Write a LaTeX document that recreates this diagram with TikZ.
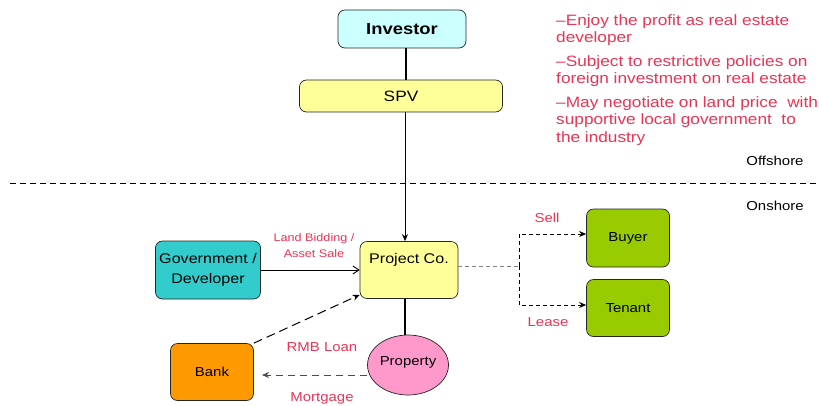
\documentclass[tikz,border=0pt]{standalone}
\usepackage{fontspec}
\setmainfont[FakeStretch=1.15]{Liberation Sans}
\usetikzlibrary{arrows.meta,shapes.geometric}
\definecolor{redtxt}{RGB}{234,52,84}
\definecolor{invfill}{RGB}{204,255,255}
\definecolor{yelfill}{RGB}{255,255,153}
\definecolor{govfill}{RGB}{51,204,204}
\definecolor{grnfill}{RGB}{153,204,0}
\definecolor{bankfill}{RGB}{255,153,0}
\definecolor{propfill}{RGB}{255,153,204}
\begin{document}
\begin{tikzpicture}[x=1pt,y=-1pt,
  box/.style={draw=black!85, rounded corners=7pt, line width=0.7pt, inner sep=0pt, align=center, font=\fontsize{14}{20}\selectfont},
  redlbl/.style={text=redtxt, inner sep=0pt, align=center},
  plain/.style={font=\fontsize{13}{16}\selectfont, inner sep=0pt},
  dsh/.style={dash pattern=on 6pt off 4pt, line width=0.8pt},
  tip/.style={-{Stealth[length=7pt,width=6pt]}}
]
\useasboundingbox (0,0) rectangle (819,405);
% boxes
\node[box, fill=invfill, minimum width=128pt, minimum height=38pt, font=\bfseries\fontsize{16}{19}\selectfont] (inv) at (402,29) {Investor};
\node[box, fill=yelfill, minimum width=203pt, minimum height=32pt, font=\fontsize{15}{18}\selectfont] (spv) at (401,96) {SPV};
\node[box, fill=yelfill, minimum width=98pt, minimum height=57pt] (proj) at (409,270) {};
\node[plain, font=\fontsize{14}{17}\selectfont] (projlbl) at (409,260) {Project Co.};
\node[box, fill=govfill, minimum width=105pt, minimum height=58pt] (gov) at (208,270) {Government /\\Developer};
\node[box, fill=grnfill, minimum width=83pt, minimum height=58pt, font=\fontsize{13}{16}\selectfont] (buy) at (628,238) {Buyer};
\node[box, fill=grnfill, minimum width=83pt, minimum height=57pt, font=\fontsize{13}{16}\selectfont] (ten) at (628,308) {Tenant};
\node[box, fill=bankfill, minimum width=83pt, minimum height=57pt, font=\fontsize{13}{16}\selectfont] (bank) at (212,372) {Bank};
\node[ellipse, draw=black!85, line width=0.7pt, fill=propfill, minimum width=81pt, minimum height=60pt, inner sep=0pt, font=\fontsize{13}{16}\selectfont] (prop) at (408,365) {};
\node[plain] (proplbl) at (408,362) {Property};
% red notes
\node[anchor=north west, inner sep=0pt, align=left, text=redtxt, font=\fontsize{15}{17.5}\selectfont] (notes) at (556,14)
  {–Enjoy the profit as real estate\\developer\\[6pt]–Subject to restrictive policies on\\foreign investment on real estate\\[6pt]–May negotiate on land price \ with\\supportive local government \ to\\the industry};
% offshore/onshore
\coordinate (dl) at (10,183);
\coordinate (dr) at (819,183);
\draw[dsh, line width=1pt] (dl) -- (dr);
\node[plain] (off) at (775,161) {Offshore};
\node[plain] (on) at (775,206) {Onshore};
% connectors
\draw[line width=1.3pt] (inv.south -| 406,0) -- (spv.north -| 406,0);
\draw[line width=1pt, tip] (spv.south -| 405,0) -- (proj.north -| 405,0);
\draw[line width=2pt] (proj.south -| 405,0) -- (prop.north -| 405,0);
\draw[line width=0.9pt, -{Straight Barb[length=6pt,width=8pt]}] (gov.east) -- (proj.west);
\node[redlbl, font=\fontsize{11}{16}\selectfont] (landlbl) at (314,246) {Land Bidding /\\Asset Sale};
% sell/lease
\coordinate (br) at (519,266);
\draw[dsh, gray, line width=1pt, dash pattern=on 4pt off 3pt] ([yshift=4pt]proj.east) -- (br);
\draw[dsh, dash pattern=on 4pt off 3pt, line width=1pt, tip] (br) |- ([yshift=4pt]buy.west);
\draw[dsh, dash pattern=on 4pt off 3pt, line width=1pt, tip] (br) |- ([yshift=3pt]ten.west);
\node[redlbl, font=\fontsize{13}{16}\selectfont] (sell) at (547,218) {Sell};
\node[redlbl, font=\fontsize{13}{16}\selectfont] (lease) at (548,322) {Lease};
% bank
\draw[dsh, line width=1pt, dash pattern=on 9pt off 5pt, tip] (bank.north east) -- ([yshift=4pt]proj.south west);
\draw[dsh, line width=0.9pt, black!70, dash pattern=on 7pt off 5pt, tip] (prop.west |- 0,375) -- (262,375);
\node[redlbl, font=\fontsize{13}{16}\selectfont] (rmb) at (322,347) {RMB Loan};
\node[redlbl, font=\fontsize{13}{16}\selectfont] (mort) at (322,398) {Mortgage};
\end{tikzpicture}
\end{document}
